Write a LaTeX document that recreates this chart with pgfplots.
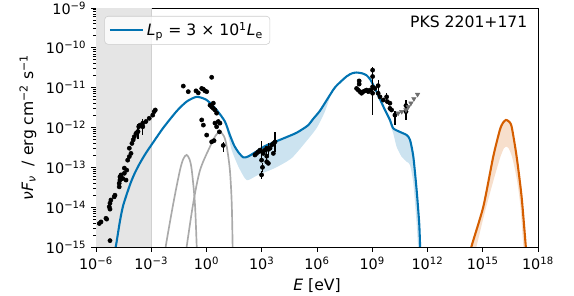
\documentclass[border=0pt]{standalone}
\usepackage{fontspec}
\setmainfont{DejaVu Sans}
\usepackage{pgfplots}
\pgfplotsset{compat=1.18}
\definecolor{cblue}{HTML}{0173B2}
\definecolor{corange}{HTML}{D55E00}
\definecolor{bandblue}{RGB}{204,227,240}
\definecolor{bandorange}{RGB}{247,223,204}
\definecolor{spangray}{RGB}{229,229,229}
\definecolor{spanedge}{RGB}{208,208,208}
\definecolor{graycurve}{RGB}{170,170,170}
\definecolor{ulgray}{RGB}{110,110,110}
\begin{document}
\begin{tikzpicture}
\useasboundingbox (-69.12bp,-35.28bp) rectangle (344.16bp,177.84bp);
\begin{axis}[
  scale only axis, width=318.24bp, height=172.08bp,
  xmin=-6, xmax=18, ymin=-15, ymax=-9,
  xtick={-6,-3,0,3,6,9,12,15,18},
  xticklabels={10\textsuperscript{−6},10\textsuperscript{−3},10\textsuperscript{0},10\textsuperscript{3},10\textsuperscript{6},10\textsuperscript{9},10\textsuperscript{12},10\textsuperscript{15},10\textsuperscript{18}},
  ytick={-15,-14,-13,-12,-11,-10,-9},
  yticklabels={10\textsuperscript{−15},10\textsuperscript{−14},10\textsuperscript{−13},10\textsuperscript{−12},10\textsuperscript{−11},10\textsuperscript{−10},10\textsuperscript{−9}},
  minor ytick={-14.69897,-14.52288,-14.39794,-14.30103,-14.22185,-14.15490,-14.09691,-14.04576,
    -13.69897,-13.52288,-13.39794,-13.30103,-13.22185,-13.15490,-13.09691,-13.04576,
    -12.69897,-12.52288,-12.39794,-12.30103,-12.22185,-12.15490,-12.09691,-12.04576,
    -11.69897,-11.52288,-11.39794,-11.30103,-11.22185,-11.15490,-11.09691,-11.04576,
    -10.69897,-10.52288,-10.39794,-10.30103,-10.22185,-10.15490,-10.09691,-10.04576,
    -9.69897,-9.52288,-9.39794,-9.30103,-9.22185,-9.15490,-9.09691,-9.04576},
  tick align=outside, major tick length=3.5bp, minor tick length=2bp,
  tick style={black, line width=0.6bp},
  axis line style={line width=0.6bp},
  xtick pos=bottom, ytick pos=left,
  ticklabel style={font=\fontsize{10.4}{12}\selectfont},
  label style={font=\fontsize{11.3}{13}\selectfont},
  xlabel={{\itshape E} [eV]},
  ylabel={{\itshape νF}\textsubscript{\itshape ν}~~/ erg cm\textsuperscript{−2} s\textsuperscript{−1}},
  legend image code/.code={\draw[#1] (0bp,0bp) -- (24bp,0bp);},
  legend style={at={(0,1)}, anchor=north west, xshift=6bp, yshift=-5.76bp,
    draw={rgb,255:red,204;green,204;blue,204}, rounded corners=2.5bp, fill=white, fill opacity=0.8, text opacity=1,
    font=\fontsize{11.3}{13}\selectfont, inner xsep=3bp, inner ysep=2.5bp},
  legend cell align=left,
]
% shaded band below 1e-3 eV
\addplot[fill=spangray, draw=none, forget plot] coordinates {(-6,-15) (-3,-15) (-3,-9) (-6,-9)} -- cycle;
\addplot[spanedge, line width=0.8bp, forget plot] coordinates {(-3,-15) (-3,-9)};
% model uncertainty bands
\addplot[fill=bandblue, draw=none, smooth, tension=0.4, forget plot] coordinates {
 (1.0,-11.85) (1.27,-12.19) (1.50,-12.45) (1.73,-12.62) (2.0,-12.75) (2.25,-12.73) (2.72,-12.60) (3.2,-12.46) (3.72,-12.36) (4.3,-12.25) (4.9,-12.13) (5.5,-11.95) (5.8,-11.78) (6.16,-11.58) (6.6,-11.26) (6.75,-11.16)
 (6.43,-11.60) (6.0,-12.0) (5.5,-12.3) (4.62,-12.77) (3.7,-13.02) (2.81,-13.19) (2.27,-13.32) (2.09,-13.28) (1.73,-12.98) (1.37,-12.57) (1.1,-12.05)} -- cycle;
\addplot[fill=bandblue, draw=none, smooth, tension=0.4, forget plot] coordinates {
 (9.6,-11.45) (9.69,-11.56) (9.96,-11.81) (10.14,-12.02) (10.5,-12.11) (10.87,-12.19) (11.05,-12.31) (11.23,-12.73) (11.41,-13.57) (11.55,-14.41) (11.6,-15.05)
 (11.50,-15.05) (11.41,-14.41) (11.23,-13.40) (11.05,-12.94) (10.87,-12.86) (10.59,-12.73) (10.32,-12.48) (10.14,-12.15) (9.8,-11.70)} -- cycle;
\addplot[fill=bandorange, draw=none, smooth, tension=0.4, forget plot] coordinates {
 (14.38,-15.05) (15.03,-13.99) (15.57,-12.73) (15.93,-12.06) (16.1,-11.88) (16.26,-11.81) (16.42,-11.85) (16.57,-11.98) (16.84,-12.73) (17.11,-13.74) (17.34,-15.05)
 (17.22,-15.05) (17.05,-14.0) (16.85,-13.3) (16.6,-12.75) (16.4,-12.52) (16.26,-12.48) (16.15,-12.52) (15.95,-12.75) (15.6,-13.3) (15.1,-14.15) (14.63,-15.05)} -- cycle;
% thermal components
\addplot[graycurve, line width=1.2bp, smooth, tension=0.5, forget plot] coordinates {
 (-2.3,-15.3) (-2.22,-15.0) (-1.80,-13.90) (-1.44,-13.07) (-1.25,-12.78) (-1.08,-12.69) (-0.92,-12.80) (-0.80,-13.07) (-0.63,-13.90) (-0.53,-15.0) (-0.5,-15.3)};
\addplot[graycurve, line width=1.2bp, smooth, tension=0.5, forget plot] coordinates {
 (-1.12,-15.1) (-1.08,-15.0) (-0.72,-13.90) (-0.35,-13.07) (0.19,-12.48) (0.5,-12.2) (0.73,-12.11) (0.95,-12.22) (1.10,-12.48) (1.27,-13.07) (1.37,-13.90) (1.42,-15.0) (1.44,-15.3)};
% main model
\addplot[cblue, line width=1.5bp, smooth, tension=0.4] coordinates {
 (-4.97,-15.1) (-4.88,-14.87) (-4.70,-14.35) (-4.52,-13.95) (-4.15,-13.43) (-3.9,-13.15) (-3.61,-12.89) (-3.3,-12.65) (-2.92,-12.39) (-2.35,-12.01) (-1.62,-11.59) (-1.08,-11.35) (-0.53,-11.23) (0.01,-11.31) (0.55,-11.56) (1.0,-11.85) (1.27,-12.19) (1.50,-12.45) (1.73,-12.62) (2.0,-12.75) (2.25,-12.73) (2.72,-12.60) (3.2,-12.46) (3.72,-12.36) (4.3,-12.25) (4.9,-12.13) (5.5,-11.95) (5.8,-11.78) (6.16,-11.58) (6.6,-11.26) (7.0,-10.98) (7.6,-10.72) (7.9,-10.64) (8.15,-10.62) (8.45,-10.64) (8.69,-10.69) (8.9,-10.80) (9.15,-11.02) (9.40,-11.27) (9.69,-11.56) (9.96,-11.81) (10.14,-12.02) (10.5,-12.11) (10.87,-12.19) (11.05,-12.31) (11.23,-12.73) (11.41,-13.57) (11.55,-14.41) (11.6,-15.0) (11.62,-15.3)};
\addlegendentry{{\itshape L}\textsubscript{p} = 3 × 10\textsuperscript{1}{\itshape L}\textsubscript{e}}
% second component
\addplot[corange, line width=1.5bp, smooth, tension=0.4, forget plot] coordinates {
 (14.3,-15.3) (14.38,-15.0) (15.03,-13.99) (15.57,-12.73) (15.93,-12.06) (16.1,-11.88) (16.26,-11.81) (16.42,-11.85) (16.57,-11.98) (16.84,-12.73) (17.11,-13.74) (17.34,-15.0) (17.4,-15.3)};
% data points
\addplot[only marks, mark=*, mark size=1.5bp, black, forget plot] coordinates {
 (-5.82,-14.41) (-5.73,-14.37) (-5.46,-14.28) (-5.42,-14.30) (-5.24,-14.84) (-5.28,-13.99) (-5.24,-14.05) (-5.24,-13.90) (-5.19,-13.82) (-5.01,-13.74) (-4.97,-13.70)
 (-4.74,-13.49) (-4.74,-13.40) (-4.70,-13.32) (-4.70,-13.24) (-4.64,-13.19) (-4.55,-13.28) (-4.46,-13.15) (-4.37,-13.32) (-4.46,-13.02) (-4.33,-13.07)
 (-4.28,-12.82) (-4.19,-12.73) (-4.10,-12.65) (-4.19,-12.52) (-4.05,-12.40) (-3.98,-12.31) (-3.92,-12.23) (-3.83,-12.15) (-3.74,-12.11) (-3.68,-11.98)
 (-3.61,-11.94) (-3.46,-11.89) (-3.29,-11.85) (-3.11,-11.77) (-2.92,-11.69) (-2.84,-11.60) (-2.78,-11.56)
 (-1.26,-10.96) (-0.99,-11.10) (-0.57,-11.08) (-0.45,-11.13) (-0.26,-11.02) (-0.17,-11.04) (-0.08,-11.08) (0.01,-11.10) (0.28,-10.74)
 (0.19,-11.44) (0.28,-11.48) (0.37,-11.39) (0.37,-11.52) (0.46,-11.56) (0.55,-11.64) (-0.26,-11.81) (-0.17,-11.94) (0.46,-11.89) (0.64,-11.85)
 (0.73,-11.89) (0.55,-11.98) (0.70,-12.11) (0.01,-12.19) (0.28,-12.36) (0.41,-12.33)
 (2.63,-12.69) (2.72,-12.65) (2.81,-12.61) (2.90,-12.57) (3.08,-12.65) (3.17,-12.57) (3.27,-12.52) (3.45,-12.52) (3.54,-12.44) (3.63,-12.40)
 (2.99,-12.82) (3.27,-12.86) (3.36,-12.90) (3.63,-12.65)
 (8.15,-11.02) (8.24,-11.06) (8.33,-11.10) (8.42,-11.14) (8.51,-11.10) (8.60,-11.08) (8.69,-11.06) (8.79,-11.10) (8.88,-11.06) (8.29,-10.83) (8.29,-10.91)
 (9.02,-10.56) (9.02,-10.72) (9.02,-11.14) (9.14,-11.02) (9.32,-11.14) (9.42,-11.23) (9.60,-11.31) (9.82,-11.35) (9.96,-11.39) (9.96,-11.52) (10.05,-11.56) (10.83,-11.60)};
\addplot[only marks, mark=*, mark size=1.5bp, black, forget plot,
  error bars/.cd, y dir=both, y explicit, error bar style={line width=0.9bp, black}, error mark=none] coordinates {
 (-3.72,-12.10) +- (0,0.20)
 (-3.46,-11.98) +- (0,0.20)
 (0.91,-12.45) += (0,0.09) -= (0,0.16)
 (2.99,-12.60) +- (0,0.25)
 (3.27,-12.72) +- (0,0.20)
 (3.04,-13.00) +- (0,0.12)
 (2.99,-13.19) +- (0,0.10)
 (3.72,-12.36) +- (0,0.25)
 (3.36,-12.55) +- (0,0.15)
 (9.02,-10.98) += (0,0.50) -= (0,0.70)
 (9.32,-10.95) +- (0,0.15)
 (9.78,-11.23) +- (0,0.10)
 (10.23,-11.69) += (0,0.10) -= (0,0.25)
 (10.83,-11.45) += (0,0.15) -= (0,0.35)};
% upper limits
\addplot[only marks, mark=triangle*, mark size=1.8bp, ulgray, forget plot, every mark/.append style={rotate=180}] coordinates {
 (10.41,-11.64) (10.60,-11.60) (10.83,-11.56) (10.96,-11.48) (11.10,-11.39) (11.26,-11.28) (11.46,-11.17)};
\node[anchor=base east, font=\fontsize{11.3}{13}\selectfont] at ([xshift=-4.1bp,yshift=-13.7bp]rel axis cs:1,1) {PKS 2201+171};
\end{axis}
\end{tikzpicture}
\end{document}
